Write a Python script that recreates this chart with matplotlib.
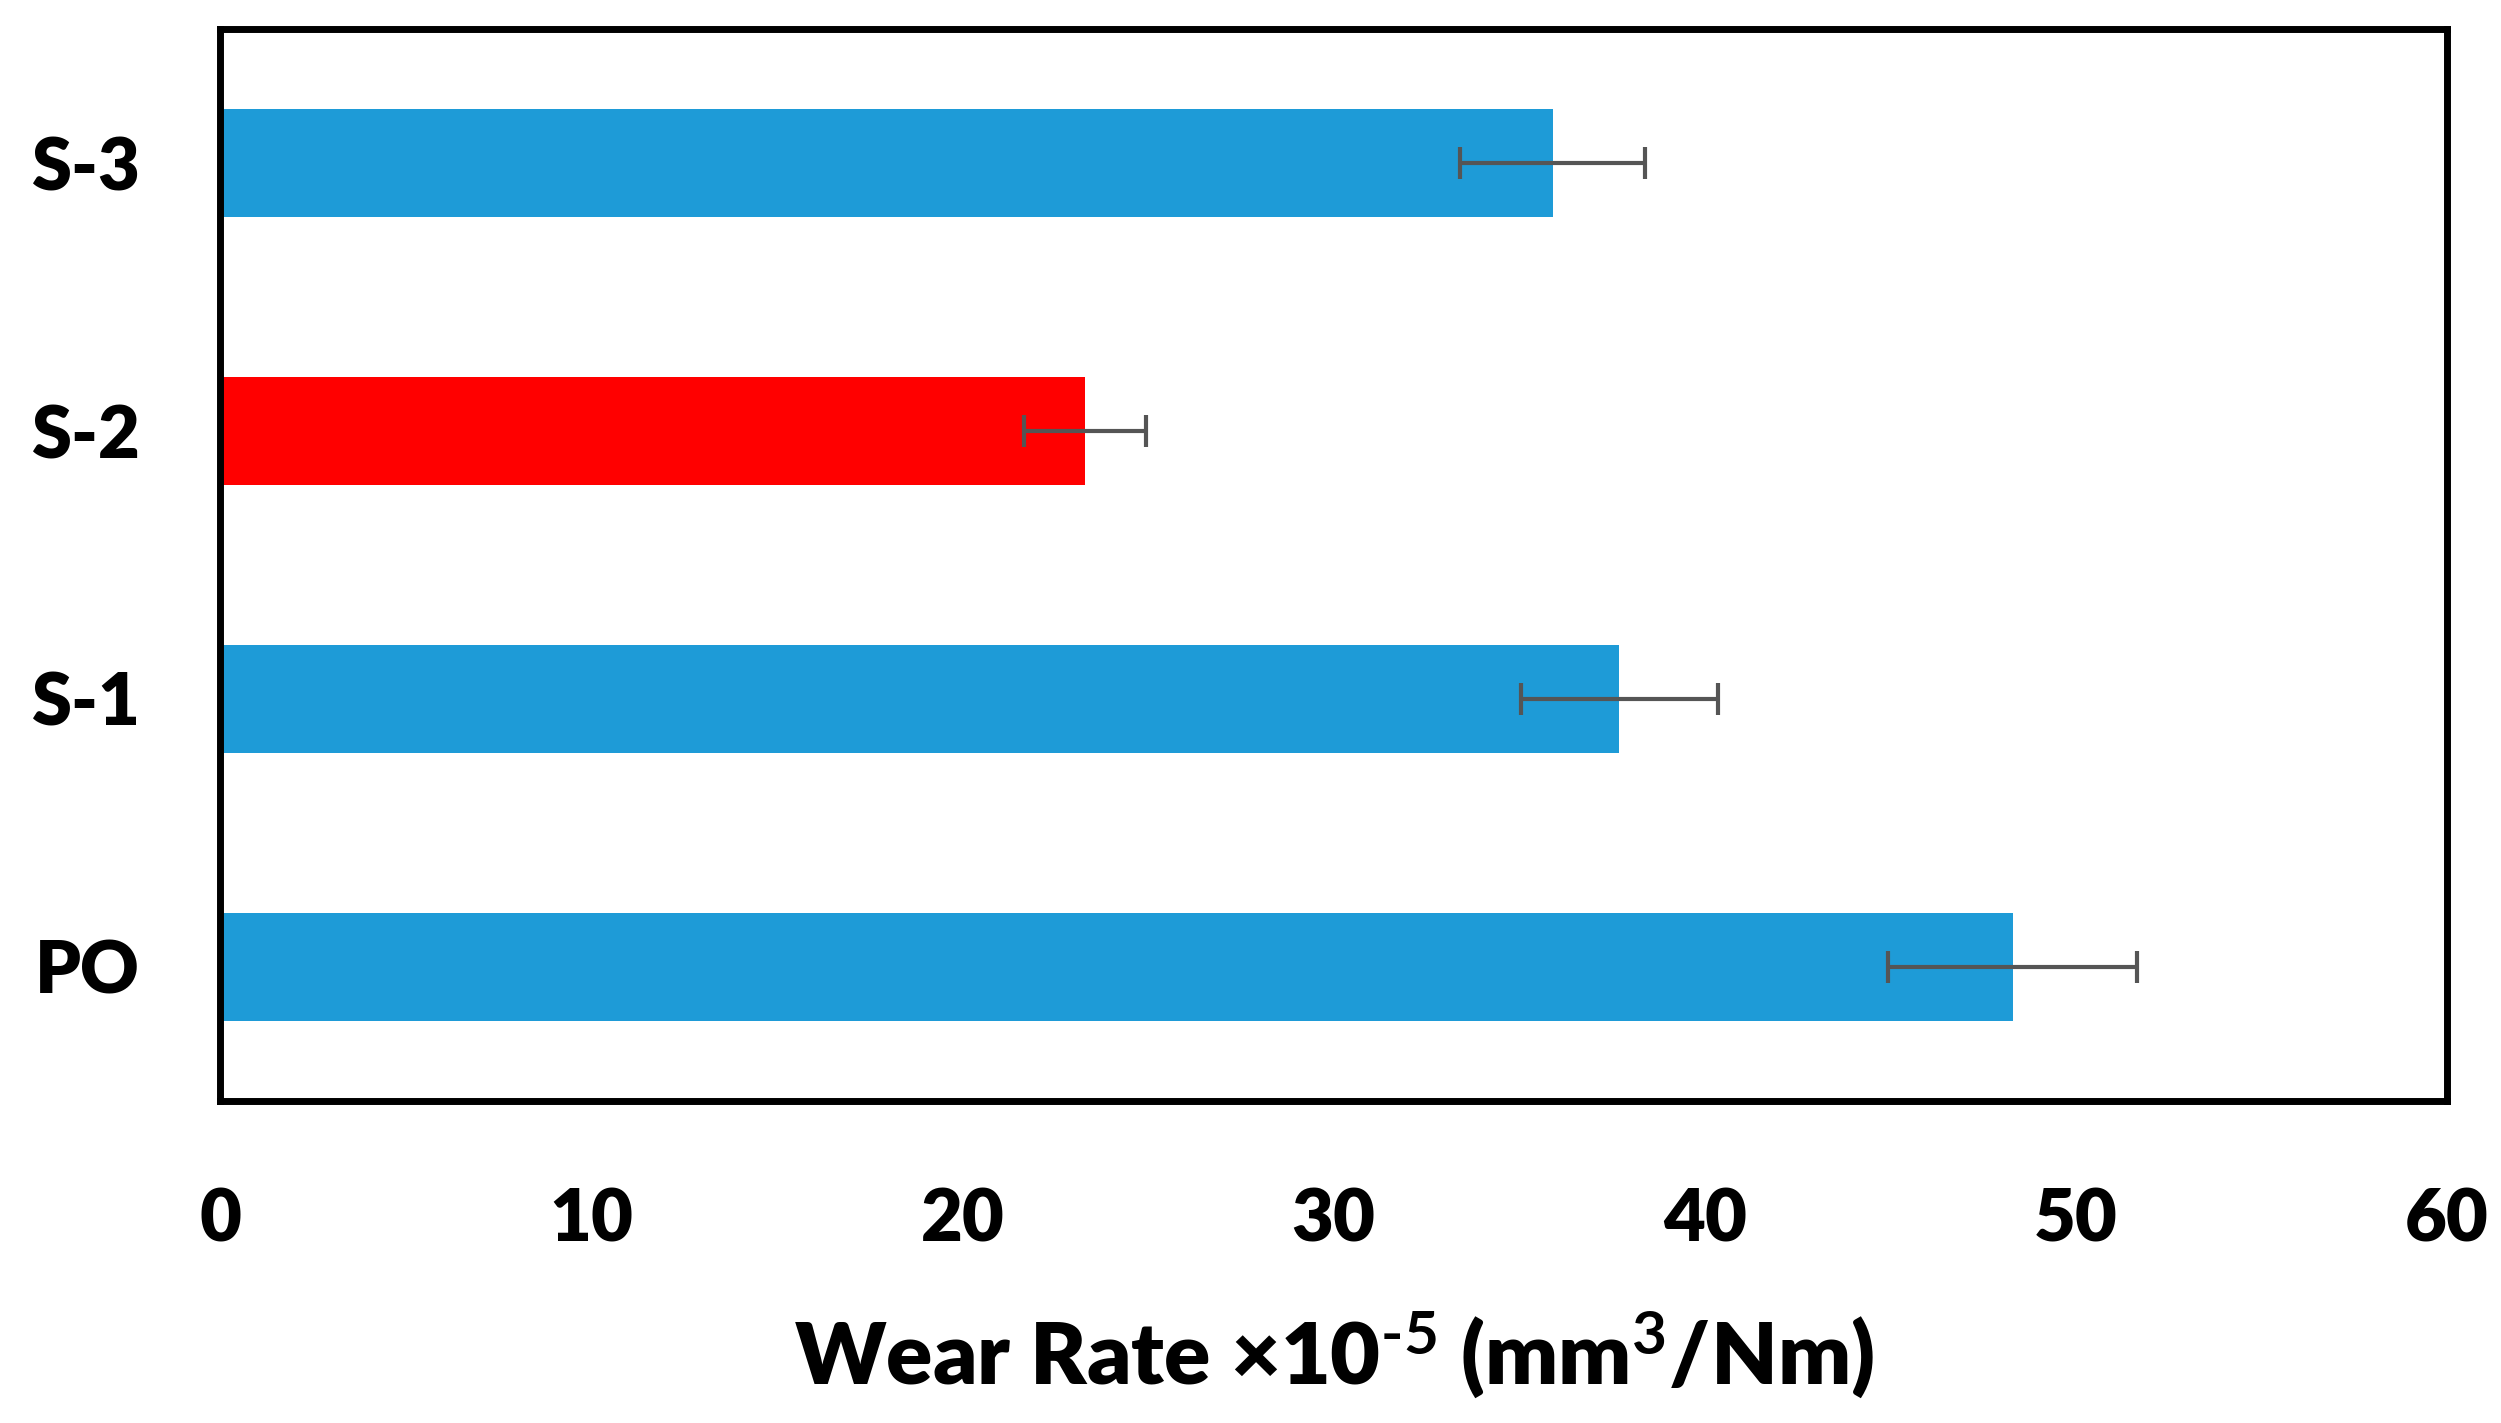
import numpy as np
import matplotlib
matplotlib.use("Agg")
import matplotlib.pyplot as plt

# samples listed bottom to top, as drawn
samples = ["PO", "S-1", "S-2", "S-3"]
wear_rate = [48.3, 37.7, 23.3, 35.9]
wear_err = [3.35, 2.65, 1.65, 2.5]
bar_colors = ["#1E9BD7", "#1E9BD7", "#FF0000", "#1E9BD7"]
x_ticks = [0, 10, 20, 30, 40, 50, 60]

plt.rcParams["font.family"] = ["Lato", "DejaVu Sans"]
plt.rcParams["font.weight"] = "bold"
plt.rcParams["mathtext.fontset"] = "custom"
plt.rcParams["mathtext.rm"] = "Lato:bold"
plt.rcParams["mathtext.bf"] = "Lato:bold"
plt.rcParams["mathtext.it"] = "Lato:bold"

fig = plt.figure(figsize=(25.01, 14.23), dpi=100)
fig.patch.set_facecolor("white")
ax = fig.add_axes([0.088, 0.2263, 0.8904, 0.7533])

y = np.arange(len(samples))
ax.barh(y, wear_rate, height=0.4, color=bar_colors, zorder=2)
ax.errorbar(wear_rate, y, xerr=wear_err, fmt="none", ecolor="#555555",
            elinewidth=3, capsize=11.5, capthick=3, zorder=3)

ax.set_xlim(0, 60)
ax.set_ylim(-0.5, 3.5)
ax.set_xticks(x_ticks)
ax.set_yticks(y)
ax.set_yticklabels(samples)

for side in ax.spines.values():
    side.set_linewidth(5)
    side.set_color("black")

ax.tick_params(axis="x", length=0, pad=62, labelsize=52)
ax.tick_params(axis="y", length=0, pad=58, labelsize=52)
for lbl in ax.get_xticklabels() + ax.get_yticklabels():
    lbl.set_fontweight("heavy")

# superscripts with a plain hyphen, like the original
ax.set_xlabel(r"Wear Rate ×10$^{\text{-5}}$ (mm$^{3}$/Nm)", fontsize=62,
              fontweight="heavy", labelpad=40)

fig.savefig("out.png", dpi=100, facecolor="white")
